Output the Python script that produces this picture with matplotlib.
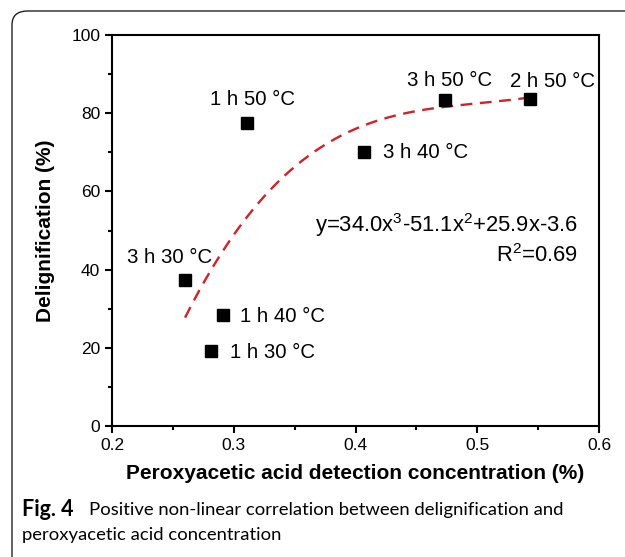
import numpy as np
from matplotlib import pyplot as plt
from matplotlib.patches import FancyBboxPatch

# data
conc = [0.311, 0.4735, 0.543, 0.407, 0.260, 0.291, 0.281]
delig = [77.5, 83.4, 83.6, 70.1, 37.3, 28.4, 19.2]
labels = ["1 h 50 °C", "3 h 50 °C", "2 h 50 °C", "3 h 40 °C",
          "3 h 30 °C", "1 h 40 °C", "1 h 30 °C"]

# cubic fit printed on the chart (x and y as fractions)
fit_coef = [34.0, -51.1, 25.9, -3.6]
fit_range = [0.26, 0.545]

plt.rcParams['font.family'] = ['Liberation Sans', 'DejaVu Sans']
plt.rcParams['mathtext.fontset'] = 'custom'
plt.rcParams['mathtext.rm'] = 'Liberation Sans'
plt.rcParams['mathtext.it'] = 'Liberation Sans'

fig = plt.figure(figsize=(6.25, 5.57), dpi=100)
W, H = 625, 557

# rounded frame around the figure
frame = FancyBboxPatch((12 / W, -30 / H), 660 / W, (H - 11 + 30) / H,
                       boxstyle="round,pad=0,rounding_size=0.025",
                       transform=fig.transFigure, fill=False,
                       edgecolor='#222222', linewidth=1.0)
fig.patches.append(frame)

ax = fig.add_axes([112 / W, 1 - 426 / H, 487 / W, 391 / H])

xf = np.linspace(fit_range[0], fit_range[1], 200)
yf = np.polyval(fit_coef, xf) * 100
ax.plot(xf, yf, color='#d42027', linestyle=(0, (5, 3.2)), linewidth=1.7, zorder=2)

ax.plot(conc, delig, linestyle='none', marker='s', markersize=8,
        color='black', zorder=3)

# label offsets in pixels (right, up) and alignment
offs = [(5, 23, 'center'), (5, 19, 'center'), (23, 18, 'center'),
        (19, -1, 'left'), (-15, 23, 'center'), (17, -2, 'left'),
        (19, -2, 'left')]
for x, y, t, (dx, dy, ha) in zip(conc, delig, labels, offs):
    ax.annotate(t, (x, y), xytext=(dx, dy), textcoords='offset pixels',
                ha=ha, va='center', fontsize=14.7)

ax.text(0.5828, 51.4, "y=34.0x$^3$-51.1x$^2$+25.9x-3.6", ha='right',
        va='center', fontsize=15.8)
ax.text(0.5828, 43.7, "R$^2$=0.69", ha='right', va='center', fontsize=15.8)

ax.set_xlim(0.2, 0.6)
ax.set_ylim(0, 100)
ax.set_xticks([0.2, 0.3, 0.4, 0.5, 0.6])
ax.set_xticklabels(['0.2', '0.3', '0.4', '0.5', '0.6'])
ax.set_xticks([0.25, 0.35, 0.45, 0.55], minor=True)
ax.set_yticks([0, 20, 40, 60, 80, 100])
ax.set_yticks([10, 30, 50, 70, 90], minor=True)
ax.tick_params(which='both', direction='out', width=1.5, labelsize=12.5,
               top=False, right=False)
ax.tick_params(which='major', length=5)
ax.tick_params(which='minor', length=3)
for s in ax.spines.values():
    s.set_linewidth(1.5)

ax.set_xlabel("Peroxyacetic acid detection concentration (%)", fontsize=15,
              fontweight='bold', labelpad=8)
ax.set_ylabel("Delignification (%)", fontsize=15, fontweight='bold', labelpad=12)

# caption
fig.text(22 / W, 1 - 510 / H, "Fig. 4", fontsize=15.5, fontweight='bold',
         family='Lato', va='center', ha='left')
fig.text(89 / W, 1 - 510 / H,
         "Positive non-linear correlation between delignification and",
         fontsize=13.3, family='Lato', va='center', ha='left')
fig.text(22 / W, 1 - 535 / H, "peroxyacetic acid concentration",
         fontsize=13.3, family='Lato', va='center', ha='left')

fig.savefig('out.png', dpi=100)
